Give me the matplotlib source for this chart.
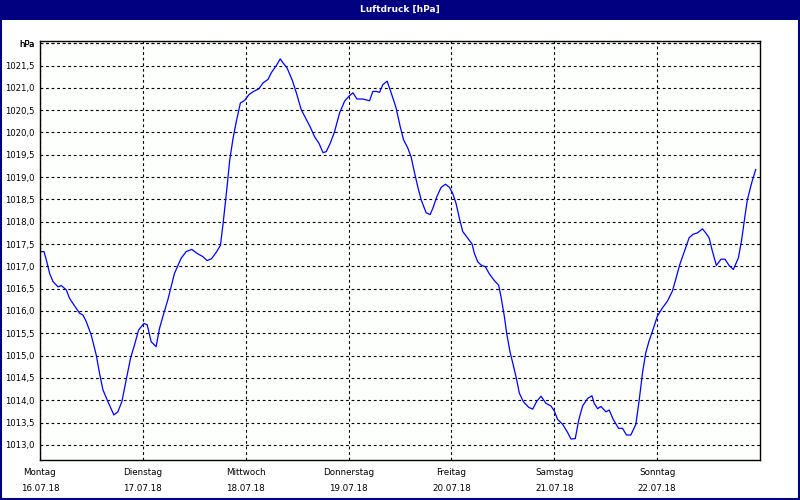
import matplotlib.pyplot as plt
from matplotlib.patches import Rectangle

# Zeit in Tagen ab Montag 00:00, Luftdruck in hPa
tage = [0.013, 0.039, 0.062, 0.094, 0.126, 0.175, 0.207, 0.256, 0.288, 0.337,
        0.385, 0.417, 0.450, 0.498, 0.547, 0.579, 0.612, 0.660, 0.718, 0.757,
        0.796, 0.838, 0.880, 0.919, 0.958, 1.010, 1.042, 1.081, 1.129, 1.162,
        1.204, 1.243, 1.275, 1.307, 1.372, 1.421, 1.476, 1.527, 1.582, 1.625,
        1.667, 1.715, 1.754, 1.780, 1.812, 1.845, 1.877, 1.909, 1.948, 1.990,
        2.032, 2.077, 2.129, 2.168, 2.217, 2.249, 2.298, 2.336, 2.362, 2.401,
        2.453, 2.492, 2.540, 2.589, 2.628, 2.670, 2.712, 2.751, 2.783, 2.822,
        2.864, 2.913, 2.961, 3.003, 3.042, 3.081, 3.139, 3.204, 3.236, 3.268,
        3.301, 3.333, 3.375, 3.414, 3.462, 3.501, 3.534, 3.576, 3.608, 3.641,
        3.673, 3.706, 3.754, 3.793, 3.819, 3.858, 3.900, 3.942, 3.981, 4.013,
        4.045, 4.078, 4.110, 4.159, 4.201, 4.223, 4.256, 4.288, 4.330, 4.369,
        4.417, 4.459, 4.482, 4.515, 4.537, 4.569, 4.605, 4.634, 4.660, 4.699,
        4.751, 4.790, 4.828, 4.871, 4.919, 4.968, 5.000, 5.032, 5.081, 5.129,
        5.162, 5.204, 5.236, 5.275, 5.324, 5.366, 5.388, 5.421, 5.453, 5.502,
        5.534, 5.573, 5.625, 5.663, 5.702, 5.744, 5.793, 5.825, 5.858, 5.890,
        5.922, 5.961, 6.003, 6.052, 6.100, 6.149, 6.181, 6.220, 6.272, 6.311,
        6.350, 6.392, 6.440, 6.472, 6.505, 6.537, 6.576, 6.621, 6.660, 6.699,
        6.741, 6.790, 6.822, 6.854, 6.877, 6.919, 6.958]
druck = [1017.33, 1017.33, 1017.14, 1016.84, 1016.66, 1016.54, 1016.57, 1016.47, 1016.28, 1016.11,
         1015.95, 1015.91, 1015.76, 1015.46, 1015.01, 1014.60, 1014.23, 1013.97, 1013.67, 1013.74,
         1013.97, 1014.45, 1014.94, 1015.24, 1015.57, 1015.72, 1015.69, 1015.31, 1015.20, 1015.61,
         1015.95, 1016.25, 1016.54, 1016.84, 1017.18, 1017.33, 1017.38, 1017.29, 1017.22, 1017.13,
         1017.17, 1017.32, 1017.47, 1017.96, 1018.64, 1019.39, 1019.87, 1020.25, 1020.66, 1020.72,
         1020.85, 1020.92, 1020.98, 1021.11, 1021.19, 1021.34, 1021.50, 1021.65, 1021.56, 1021.45,
         1021.17, 1020.89, 1020.51, 1020.29, 1020.12, 1019.90, 1019.76, 1019.55, 1019.57, 1019.76,
         1020.02, 1020.44, 1020.70, 1020.81, 1020.89, 1020.75, 1020.75, 1020.71, 1020.92, 1020.92,
         1020.90, 1021.07, 1021.15, 1020.89, 1020.55, 1020.14, 1019.84, 1019.65, 1019.45, 1019.10,
         1018.78, 1018.49, 1018.20, 1018.16, 1018.30, 1018.56, 1018.77, 1018.84, 1018.77, 1018.63,
         1018.41, 1018.07, 1017.78, 1017.63, 1017.50, 1017.29, 1017.10, 1017.03, 1016.99, 1016.83,
         1016.68, 1016.58, 1016.32, 1015.87, 1015.50, 1015.09, 1014.75, 1014.46, 1014.16, 1013.97,
         1013.84, 1013.80, 1013.97, 1014.09, 1013.93, 1013.87, 1013.76, 1013.57, 1013.46, 1013.28,
         1013.13, 1013.14, 1013.54, 1013.87, 1014.04, 1014.10, 1013.93, 1013.81, 1013.86, 1013.74,
         1013.78, 1013.57, 1013.37, 1013.37, 1013.22, 1013.22, 1013.46, 1013.99, 1014.62, 1015.07,
         1015.33, 1015.59, 1015.89, 1016.07, 1016.22, 1016.45, 1016.71, 1017.04, 1017.38, 1017.64,
         1017.72, 1017.75, 1017.84, 1017.75, 1017.64, 1017.34, 1017.02, 1017.16, 1017.16, 1017.02,
         1016.93, 1017.19, 1017.60, 1018.13, 1018.49, 1018.87, 1019.17]

wochentage = ['Montag', 'Dienstag', 'Mittwoch', 'Donnerstag', 'Freitag', 'Samstag', 'Sonntag']
daten = ['16.07.18', '17.07.18', '18.07.18', '19.07.18', '20.07.18', '21.07.18', '22.07.18']
y_ticks = [1013.0 + 0.5 * i for i in range(19)]

navy = '#000080'
plt.rcParams['font.family'] = 'DejaVu Sans'

fig = plt.figure(figsize=(8, 5), dpi=100)
fig.patch.set_facecolor('white')

# Titelleiste und Rahmen
fig.patches.append(Rectangle((0, 0.96), 1, 0.04, transform=fig.transFigure,
                             facecolor=navy, edgecolor='none', zorder=0))
fig.patches.append(Rectangle((0.0015, 0.002), 0.997, 0.996, transform=fig.transFigure,
                             facecolor='none', edgecolor=navy, linewidth=1.5, zorder=5))
fig.text(0.5, 0.981, 'Luftdruck [hPa]', color='white', fontsize=6.5, fontweight='bold',
         ha='center', va='center')

ax = fig.add_axes([0.05, 0.08, 0.90, 0.838])
ax.set_facecolor('#fcfffc')
ax.plot(tage, druck, color='#0000ff', linewidth=0.9)

ax.set_xlim(0, 7)
ax.set_ylim(1012.66, 1022.05)

ax.set_xticks(range(7))
ax.set_xticklabels([f'{w}\n{d}' for w, d in zip(wochentage, daten)], fontsize=6.3,
                   linespacing=1.9)
ax.set_yticks(y_ticks + [1022.0])
ax.set_yticklabels([f'{v:.1f}'.replace('.', ',') for v in y_ticks] + ['hPa'], fontsize=6.1)
ax.tick_params(length=0, pad=4)
ax.tick_params(axis='x', pad=6)

ax.grid(True, color='black', linestyle=(0, (2.5, 2.5)), linewidth=0.8)
for s in ax.spines.values():
    s.set_color('black')
    s.set_linewidth(1.0)

plt.savefig('out.png', dpi=100)
